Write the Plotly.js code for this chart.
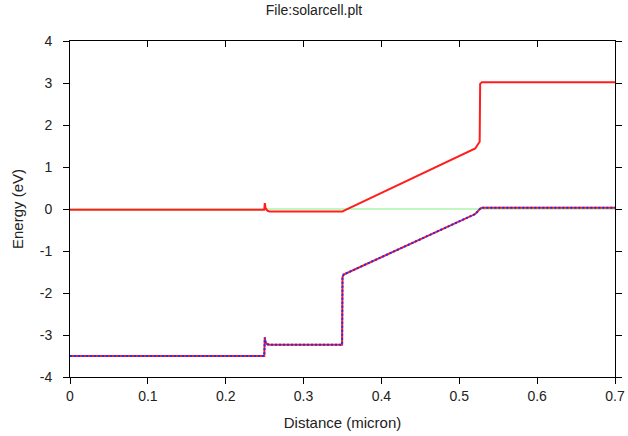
<!DOCTYPE html>
<html>
<head>
<meta charset="utf-8">
<script src="https://cdn.plot.ly/plotly-3.0.1.min.js"></script>
<style>html,body{margin:0;padding:0;background:#fff;}#chart{width:628px;height:436px;}</style>
</head>
<body>
<div id="chart"></div>
<script>
// Conduction band (Ec)
var ecX = [0, 0.1, 0.2, 0.2495, 0.2502, 0.2512, 0.2535, 0.256, 0.30, 0.350, 0.352, 0.5205, 0.5240, 0.5262, 0.5268, 0.5290, 0.60, 0.70];
var ecY = [-0.02, -0.02, -0.02, -0.02, 0.14, 0.02, -0.04, -0.06, -0.06, -0.06, -0.04, 1.44, 1.54, 1.60, 2.98, 3.02, 3.02, 3.02];
// Valence band (Ev)
var evX = [0, 0.1, 0.2, 0.2495, 0.2502, 0.2512, 0.2535, 0.256, 0.30, 0.3495, 0.3500, 0.3515, 0.5205, 0.5240, 0.5275, 0.5300, 0.60, 0.70];
var evY = [-3.50, -3.50, -3.50, -3.50, -3.06, -3.18, -3.22, -3.23, -3.23, -3.23, -1.62, -1.56, -0.12, -0.06, 0.02, 0.03, 0.03, 0.03];
// Fermi level
var efX = [0, 0.7];
var efY = [0, 0];

var xTicks = [0, 0.1, 0.2, 0.3, 0.4, 0.5, 0.6, 0.7];
var yTicks = [-4, -3, -2, -1, 0, 1, 2, 3, 4];

var traces = [
  {x: efX, y: efY, type: 'scatter', mode: 'lines', line: {color: 'rgb(128,240,128)', width: 1}, hoverinfo: 'skip'},
  {x: ecX, y: ecY, type: 'scatter', mode: 'lines', line: {color: 'rgb(255,30,30)', width: 2}},
  {x: evX, y: evY, type: 'scatter', mode: 'lines', line: {color: 'rgb(255,30,30)', width: 2}},
  {x: evX, y: evY, type: 'scatter', mode: 'lines', line: {color: 'rgb(40,40,255)', width: 2, dash: '2px,2px'}},
  {x: xTicks, y: xTicks.map(function(){return null;}), xaxis: 'x2', type: 'scatter', mode: 'lines', hoverinfo: 'skip'}
];

var layout = {
  width: 628, height: 436,
  margin: {l: 70, r: 13, t: 41, b: 59},
  paper_bgcolor: '#fff', plot_bgcolor: '#fff',
  showlegend: false,
  font: {family: 'Liberation Sans, Arial, sans-serif', size: 14, color: '#222'},
  title: {text: 'File:solarcell.plt', x: 0.5, xanchor: 'center', y: 0.988, yanchor: 'top', font: {size: 14, color: '#222'}},
  xaxis: {
    range: [0, 0.7], tickvals: xTicks, ticktext: xTicks.map(String),
    ticks: 'outside', ticklen: 6, tickcolor: '#000', tickwidth: 1,
    showline: true, linecolor: '#000', linewidth: 1, mirror: true,
    showgrid: false, zeroline: false,
    tickfont: {size: 14},
    title: {text: 'Distance (micron)', standoff: 14, font: {size: 15}}
  },
  xaxis2: {
    overlaying: 'x', side: 'top', range: [0, 0.7], tickvals: xTicks,
    showticklabels: false, ticks: 'inside', ticklen: 6, tickcolor: '#000',
    showline: false, showgrid: false, zeroline: false
  },
  yaxis: {
    range: [-4, 4], tickvals: yTicks, ticktext: yTicks.map(String),
    ticks: 'outside', ticklen: 6, tickcolor: '#000', tickwidth: 1,
    showline: true, linecolor: '#000', linewidth: 1, mirror: 'ticks',
    showgrid: false, zeroline: false,
    tickfont: {size: 14}, ticklabelstandoff: 8,
    title: {text: 'Energy (eV)', standoff: 12, font: {size: 15}}
  }
};

Plotly.newPlot('chart', traces, layout, {displayModeBar: false, staticPlot: true});
</script>
</body>
</html>
